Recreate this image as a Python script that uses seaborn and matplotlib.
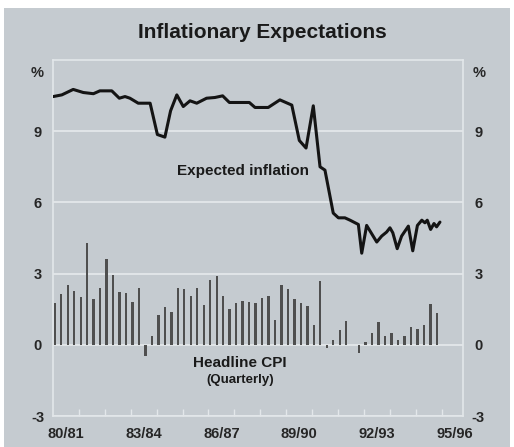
import matplotlib
matplotlib.use("Agg")
import matplotlib.pyplot as plt
from matplotlib.patches import Rectangle
import matplotlib.transforms as mtransforms
import pandas as pd
import seaborn as sns

# Headline CPI, quarterly % change, Sep qtr 1980 .. Jun qtr 1995
cpi_values = [1.77, 2.16, 2.54, 2.27, 2.02, 4.30, 1.91, 2.41, 3.60, 2.96,
              2.23, 2.18, 1.81, 2.40, -0.49, 0.35, 1.27, 1.58, 1.39, 2.40,
              2.34, 2.04, 2.40, 1.66, 2.72, 2.89, 2.06, 1.52, 1.76, 1.83,
              1.80, 1.76, 1.99, 2.06, 1.03, 2.54, 2.37, 1.92, 1.76, 1.63,
              0.82, 2.69, -0.15, 0.20, 0.61, 0.99, 0.00, -0.34, 0.10, 0.49,
              0.97, 0.38, 0.49, 0.21, 0.38, 0.76, 0.66, 0.83, 1.73, 1.35]
# years since July 1980 for each quarter
cpi_years = [round(0.07 + 0.25 * i, 3) for i in range(len(cpi_values))]

# Expected inflation (years since July 1980, %)
exp_years = [0.01, 0.34, 0.78, 1.17, 1.56, 1.81, 2.27, 2.56, 2.78, 2.97,
             3.29, 3.75, 4.03, 4.32, 4.54, 4.78, 5.03, 5.29, 5.55, 5.93,
             6.25, 6.55, 6.81, 7.58, 7.80, 8.31, 8.76, 9.22, 9.51, 9.77,
             10.05, 10.31, 10.50, 10.82, 11.02, 11.27, 11.47, 11.79, 11.92, 12.11,
             12.50, 12.69, 12.88, 13.01, 13.12, 13.29, 13.46, 13.72, 13.89, 14.07,
             14.24, 14.36, 14.45, 14.58, 14.71, 14.81, 14.94]
exp_values = [10.46, 10.53, 10.76, 10.63, 10.58, 10.70, 10.70, 10.39, 10.46, 10.39,
              10.18, 10.18, 8.86, 8.75, 9.86, 10.53, 10.04, 10.28, 10.18, 10.39,
              10.42, 10.49, 10.21, 10.21, 10.00, 10.00, 10.32, 10.10, 8.61, 8.29,
              10.07, 7.50, 7.36, 5.55, 5.35, 5.35, 5.25, 5.07, 3.86, 5.03,
              4.33, 4.58, 4.75, 4.93, 4.72, 4.05, 4.58, 5.00, 3.96, 5.03,
              5.25, 5.14, 5.25, 4.86, 5.11, 4.97, 5.17]

fy_labels = ["80/81", "83/84", "86/87", "89/90", "92/93", "95/96"]
fy_label_pos = [0.5, 3.5, 6.5, 9.5, 12.5, 15.5]
y_ticks = [-3, 0, 3, 6, 9]

BG = "#c5cbd0"
GRID = "#e3e7ea"

sns.set_style("white", {"axes.facecolor": BG})
plt.rcParams["font.family"] = ["Liberation Sans", "DejaVu Sans"]
plt.rcParams["axes.unicode_minus"] = False

cpi_df = pd.DataFrame({"year": cpi_years, "cpi": cpi_values})
exp_df = pd.DataFrame({"year": exp_years, "expected": exp_values})

fig = plt.figure(figsize=(5.14, 4.47), dpi=100, facecolor="white")
fig.patches.append(Rectangle((4 / 514, 0), 506 / 514, 439 / 447,
                             transform=fig.transFigure, facecolor=BG,
                             edgecolor="none", zorder=-10))
ax = fig.add_axes([53 / 514, 31 / 447, 410 / 514, 356 / 447])

sns.barplot(data=cpi_df, x="year", y="cpi", native_scale=True, color="#4f4f4f",
            saturation=1, width=0.36, errorbar=None, ax=ax, zorder=2,
            edgecolor="none", linewidth=0)
sns.lineplot(data=exp_df, x="year", y="expected", color="#141414",
             linewidth=2.2, sort=False, ax=ax, zorder=3)

ax.set_xlim(0, 410 / 25.9)
ax.set_ylim(-3, 12)
ax.set_xlabel("")
ax.set_ylabel("")

ax.set_yticks(y_ticks)
ax.yaxis.grid(True, color=GRID, linewidth=1.3)
ax.set_axisbelow(True)
ax.tick_params(axis="y", length=0, pad=11, labelleft=True, labelright=True,
               labelsize=10.5)
for t in ax.yaxis.get_major_ticks():
    t.label1.set_horizontalalignment("center")
    t.label2.set_horizontalalignment("center")
    t.label1.set_fontweight("bold")
    t.label2.set_fontweight("bold")

ax.set_xticks(fy_label_pos)
ax.set_xticklabels(fy_labels, fontweight="bold")
ax.set_xticks(range(1, 16), minor=True)
ax.tick_params(axis="x", which="major", length=0, pad=8, labelsize=10.5)
ax.tick_params(axis="x", which="minor", direction="in", length=5, width=1,
               color=GRID, bottom=True)

for s in ax.spines.values():
    s.set_visible(True)
    s.set_color(GRID)
    s.set_linewidth(1.2)

trans = mtransforms.blended_transform_factory(ax.transAxes, ax.transData)
for xa in (-0.039, 1.04):
    ax.text(xa, 11.45, "%", transform=trans, ha="center", va="center",
            fontsize=10.5, fontweight="bold")

ax.text(7.35, 7.32, "Expected inflation", ha="center", va="center",
        fontsize=11, fontweight="bold", color="#1a1a1a")
ax.text(7.22, -0.76, "Headline CPI", ha="center", va="center",
        fontsize=11, fontweight="bold", color="#1a1a1a")
ax.text(7.22, -1.49, "(Quarterly)", ha="center", va="center",
        fontsize=9.5, fontweight="bold", color="#1a1a1a")

fig.text(262 / 514, 1 - 33 / 447, "Inflationary Expectations", ha="center",
         va="center", fontsize=15, fontweight="bold", color="#1a1a1a")

fig.savefig("out.png", dpi=100, facecolor=fig.get_facecolor())
